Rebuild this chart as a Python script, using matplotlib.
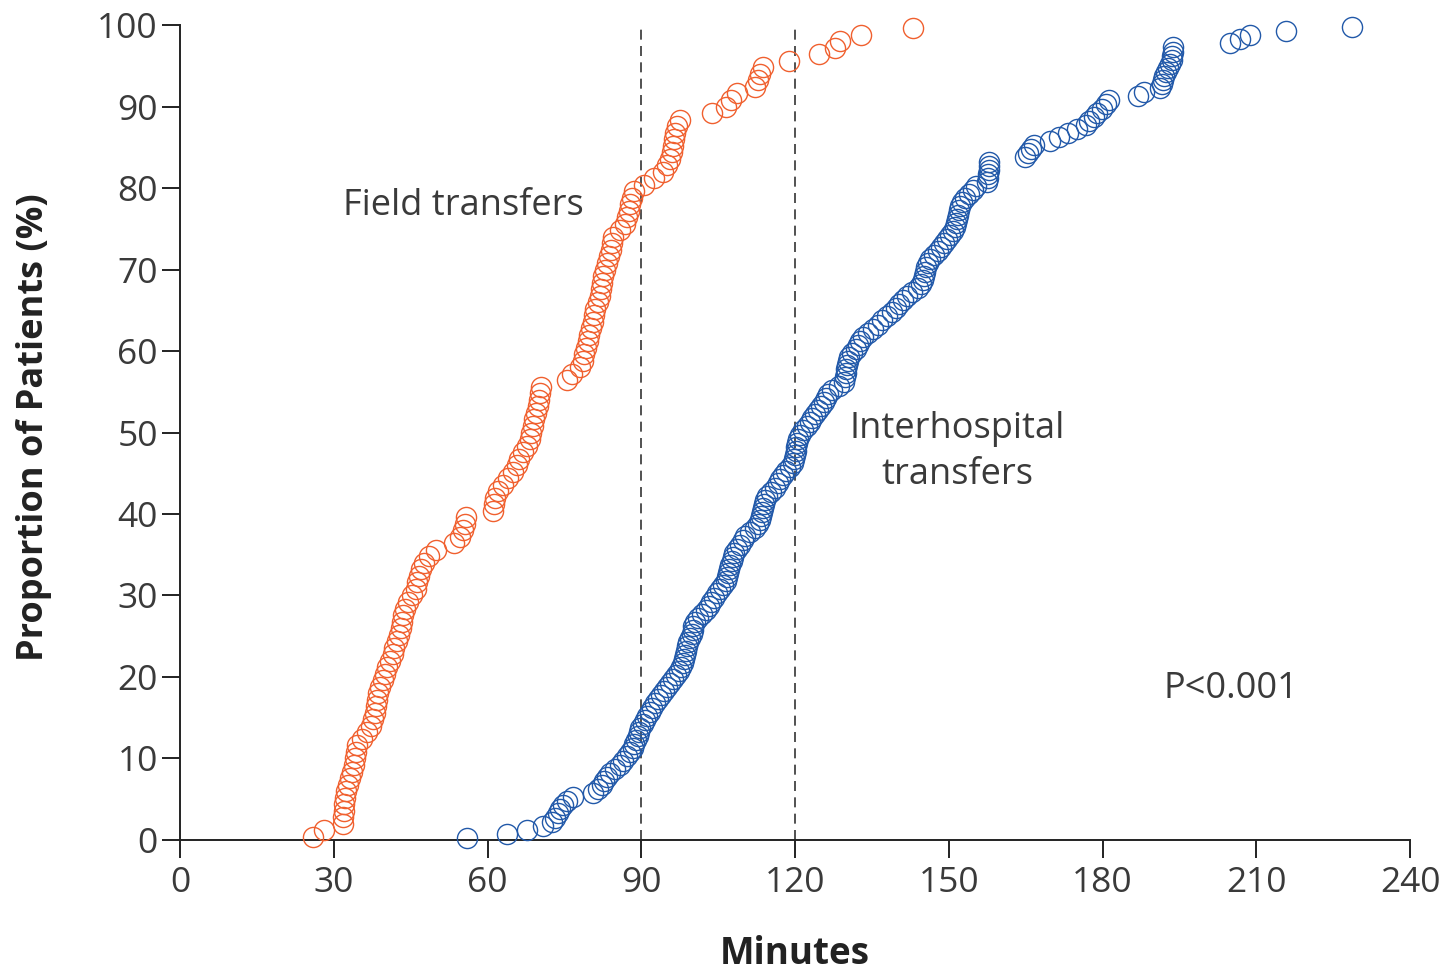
import matplotlib
matplotlib.use("Agg")
import matplotlib.pyplot as plt

# ── data (minutes, cumulative % of patients) ────────────────────────────────
field_min = [
    26, 28, 31.8, 31.8, 32, 32, 32.2, 32.4, 32.8, 33.2,
    33.6, 34, 34.2, 34.4, 34.6, 35.5, 36.5, 37.2, 37.6, 38,
    38.3, 38.5, 38.7, 39, 39.5, 40, 40.4, 41, 41.5, 41.8,
    42.4, 42.8, 43.1, 43.3, 43.5, 43.8, 44.5, 45.3, 46, 46.3,
    46.6, 47, 47.6, 48.5, 50, 53.4, 54.6, 55.2, 55.5, 55.8,
    61, 61.3, 61.5, 62, 63, 64, 65, 65.7, 66.2, 67,
    67.6, 68.2, 68.5, 68.8, 69, 69.5, 69.8, 70, 70.2, 70.5,
    75.5, 76.5, 78, 78.7, 78.9, 79.3, 79.5, 79.8, 80.2, 80.5,
    80.7, 81, 81.5, 82, 82.2, 82.4, 82.6, 83, 83.4, 83.7,
    84, 84.3, 84.5, 85.8, 86.8, 87.2, 87.5, 87.8, 88.2, 88.6,
    90.5, 92.5, 94.2, 95, 95.6, 96, 96.2, 96.4, 96.6, 97,
    97.6, 103.8, 106.5, 107.5, 108.6, 112.2, 112.8, 113.2, 113.8, 118.8,
    124.7, 127.8, 128.8, 132.8, 143,
]
field_pct = [
    0.4, 1.2, 2.0, 2.8, 3.6, 4.4, 5.2, 6.0, 6.8, 7.6,
    8.4, 9.2, 10.0, 10.8, 11.6, 12.4, 13.2, 14.0, 14.8, 15.6,
    16.4, 17.2, 18.0, 18.8, 19.6, 20.4, 21.2, 22.0, 22.8, 23.6,
    24.4, 25.2, 26.0, 26.8, 27.6, 28.4, 29.2, 30.0, 30.8, 31.6,
    32.4, 33.2, 34.0, 34.8, 35.6, 36.4, 37.2, 38.0, 38.8, 39.6,
    40.4, 41.2, 42.0, 42.8, 43.6, 44.4, 45.2, 46.0, 46.8, 47.6,
    48.4, 49.2, 50.0, 50.8, 51.6, 52.4, 53.2, 54.0, 54.8, 55.6,
    56.4, 57.2, 58.0, 58.8, 59.6, 60.4, 61.2, 62.0, 62.8, 63.6,
    64.4, 65.2, 66.0, 66.8, 67.6, 68.4, 69.2, 70.0, 70.8, 71.6,
    72.4, 73.2, 74.0, 74.8, 75.6, 76.4, 77.2, 78.0, 78.8, 79.6,
    80.4, 81.2, 82.0, 82.8, 83.6, 84.4, 85.2, 86.0, 86.8, 87.6,
    88.4, 89.2, 90.0, 90.8, 91.6, 92.4, 93.2, 94.0, 94.8, 95.6,
    96.4, 97.2, 98.0, 98.8, 99.6,
]

inter_min = [
    56, 63.8, 67.7, 70.8, 72.5, 73.2, 73.8, 74.1, 74.8, 75.5,
    76.7, 80.6, 81.5, 82.3, 82.8, 83.3, 83.9, 84.8, 85.8, 86.5,
    87.2, 87.8, 88.3, 88.6, 89, 89.3, 89.5, 89.8, 90.3, 90.8,
    91.2, 91.6, 92, 92.6, 93.2, 93.8, 94.4, 95, 95.6, 96.2,
    96.8, 97.3, 97.8, 98.1, 98.3, 98.6, 98.8, 98.9, 99.2, 99.5,
    99.8, 100, 100.1, 100.4, 101, 101.8, 102.6, 103.2, 103.6, 104.2,
    104.8, 105.4, 106, 106.5, 106.8, 107, 107.2, 107.4, 107.6, 107.8,
    108, 108.6, 109.3, 109.8, 110.3, 111.2, 112.2, 112.8, 113.1, 113.3,
    113.5, 113.7, 113.9, 114.2, 114.6, 115.3, 116, 116.6, 117.1, 117.6,
    118.3, 119, 119.6, 119.8, 120, 120.1, 120.2, 120.3, 120.5, 121,
    121.6, 122.3, 122.9, 123.4, 123.9, 124.5, 125.1, 125.6, 126, 126.5,
    127.3, 128.5, 129.6, 129.8, 129.9, 130, 130.1, 130.3, 130.6, 131.2,
    131.8, 132.3, 132.7, 133.3, 134.2, 135.2, 136.2, 137, 138, 139,
    139.6, 140.3, 141, 141.8, 142.8, 143.9, 144.6, 145, 145.2, 145.4,
    145.6, 145.9, 146.4, 147.1, 147.8, 148.4, 149, 149.7, 150.3, 150.9,
    151.2, 151.4, 151.6, 151.8, 152, 152.2, 152.6, 153.2, 154, 154.7,
    155.4, 157.5, 157.6, 157.7, 157.8, 157.8, 157.9, 164.9, 165.5, 166.1,
    166.6, 169.8, 171.5, 173.3, 175, 176.8, 177.4, 178.3, 178.9, 179.8,
    180.6, 181.2, 187, 188, 191.2, 191.5, 191.8, 192, 192.4, 192.8,
    193.2, 193.5, 193.6, 193.7, 193.8, 204.9, 206.8, 208.8, 215.8, 228.7,
]
inter_pct = [
    0.25, 0.75, 1.25, 1.75, 2.25, 2.75, 3.25, 3.75, 4.25, 4.75,
    5.25, 5.75, 6.25, 6.75, 7.25, 7.75, 8.25, 8.75, 9.25, 9.75,
    10.25, 10.75, 11.25, 11.75, 12.25, 12.75, 13.25, 13.75, 14.25, 14.75,
    15.25, 15.75, 16.25, 16.75, 17.25, 17.75, 18.25, 18.75, 19.25, 19.75,
    20.25, 20.75, 21.25, 21.75, 22.25, 22.75, 23.25, 23.75, 24.25, 24.75,
    25.25, 25.75, 26.25, 26.75, 27.25, 27.75, 28.25, 28.75, 29.25, 29.75,
    30.25, 30.75, 31.25, 31.75, 32.25, 32.75, 33.25, 33.75, 34.25, 34.75,
    35.25, 35.75, 36.25, 36.75, 37.25, 37.75, 38.25, 38.75, 39.25, 39.75,
    40.25, 40.75, 41.25, 41.75, 42.25, 42.75, 43.25, 43.75, 44.25, 44.75,
    45.25, 45.75, 46.25, 46.75, 47.25, 47.75, 48.25, 48.75, 49.25, 49.75,
    50.25, 50.75, 51.25, 51.75, 52.25, 52.75, 53.25, 53.75, 54.25, 54.75,
    55.25, 55.75, 56.25, 56.75, 57.25, 57.75, 58.25, 58.75, 59.25, 59.75,
    60.25, 60.75, 61.25, 61.75, 62.25, 62.75, 63.25, 63.75, 64.25, 64.75,
    65.25, 65.75, 66.25, 66.75, 67.25, 67.75, 68.25, 68.75, 69.25, 69.75,
    70.25, 70.75, 71.25, 71.75, 72.25, 72.75, 73.25, 73.75, 74.25, 74.75,
    75.25, 75.75, 76.25, 76.75, 77.25, 77.75, 78.25, 78.75, 79.25, 79.75,
    80.25, 80.75, 81.25, 81.75, 82.25, 82.75, 83.25, 83.75, 84.25, 84.75,
    85.25, 85.75, 86.25, 86.75, 87.25, 87.75, 88.25, 88.75, 89.25, 89.75,
    90.25, 90.75, 91.25, 91.75, 92.25, 92.75, 93.25, 93.75, 94.25, 94.75,
    95.25, 95.75, 96.25, 96.75, 97.25, 97.75, 98.25, 98.75, 99.25, 99.75,
]

x_ticks = [0, 30, 60, 90, 120, 150, 180, 210, 240]
y_ticks = [0, 10, 20, 30, 40, 50, 60, 70, 80, 90, 100]
cutoffs = [90, 120]

RED = "#f0602f"
BLUE = "#2259a9"
INK = "#3a3a3a"
FONT = "Open Sans"

plt.rcParams["font.family"] = [FONT, "DejaVu Sans"]

fig = plt.figure(figsize=(14.44, 9.74), dpi=100)
ax = fig.add_axes([0.1247, 0.1376, 0.8518, 0.8367])

for c in cutoffs:
    ax.plot([c, c], [0, 100], color="#333333", linewidth=1.2,
            linestyle=(0, (6, 3.8)), zorder=1)

ax.plot(field_min, field_pct, linestyle="none", marker="o", markersize=14.5,
        markerfacecolor="none", markeredgecolor=RED, markeredgewidth=1.0,
        clip_on=False, zorder=3)
ax.plot(inter_min, inter_pct, linestyle="none", marker="o", markersize=14.5,
        markerfacecolor="none", markeredgecolor=BLUE, markeredgewidth=1.0,
        clip_on=False, zorder=3)

ax.set_xlim(0, 240)
ax.set_ylim(0, 100)
ax.set_xticks(x_ticks)
ax.set_yticks(y_ticks)

for side in ("top", "right"):
    ax.spines[side].set_visible(False)
for side in ("left", "bottom"):
    ax.spines[side].set_linewidth(1.4)
    ax.spines[side].set_color("#222222")

ax.tick_params(axis="both", direction="out", length=13, width=1.4,
               color="#222222", labelsize=25.5, labelcolor=INK)
ax.tick_params(axis="x", pad=6)
ax.tick_params(axis="y", pad=3)

ax.set_xlabel("Minutes", fontsize=26.5, fontweight="bold", color="#222222")
ax.set_ylabel("Proportion of Patients (%)", fontsize=26, fontweight="bold",
              color="#222222")
ax.xaxis.set_label_coords(0.5, -0.117)
ax.yaxis.set_label_coords(-0.104, 0.506)

ax.text(31.8, 77.8, "Field transfers", fontsize=26, color=INK,
        ha="left", va="center")
ax.text(151.6, 47.6, "Interhospital\ntransfers", fontsize=26, color=INK,
        ha="center", va="center", multialignment="center", linespacing=1.36)
ax.text(191.8, 18.5, "P<0.001", fontsize=26, color=INK,
        ha="left", va="center")

fig.savefig("out.png", dpi=100)
